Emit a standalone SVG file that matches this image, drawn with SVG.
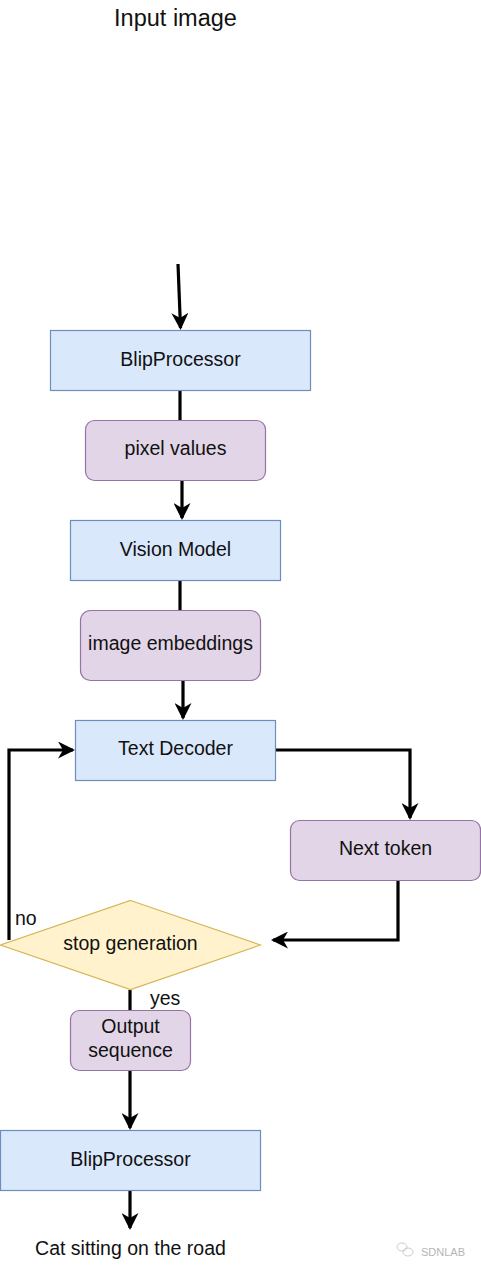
<svg xmlns="http://www.w3.org/2000/svg" width="481" height="1271" viewBox="0 0 481 1271">
  <style>
    .t { font-family: "Liberation Sans", Arial, sans-serif; font-size: 19.5px; fill: #111; text-anchor: middle; }
    .blue { fill: #dae8fc; stroke: #6c8ebf; stroke-width: 1.2; }
    .purple { fill: #e1d5e7; stroke: #9673a6; stroke-width: 1.2; }
    .yellow { fill: #fff2cc; stroke: #d6b656; stroke-width: 1.2; }
    .edge { fill: none; stroke: #000; stroke-width: 3.2; stroke-linejoin: miter; }
    .arrow { marker-end: url(#ah); }
  </style>
  <defs>
    <marker id="ah" viewBox="0 0 17 17" refX="15" refY="8.5" markerWidth="17" markerHeight="17" markerUnits="userSpaceOnUse" orient="auto">
      <path d="M0,0 L17,8.5 L0,17 L5,8.5 Z" fill="#000"/>
    </marker>
  </defs>
  <rect width="481" height="1271" fill="#fff"/>

  <g id="connectors">
    <path class="edge arrow" d="M178,264 L180.5,328"/>
    <path class="edge" d="M180,390 L180,420"/>
    <path class="edge arrow" d="M182,481 L182,518"/>
    <path class="edge" d="M180,580 L180,610"/>
    <path class="edge arrow" d="M183,681 L183,718"/>
    <path class="edge arrow" d="M276,750 L410,750 L410,818"/>
    <path class="edge arrow" d="M398,880 L398,940 L273,940"/>
    <path class="edge arrow" d="M9,940 L9,750 L73,750"/>
    <path class="edge" d="M130,990 L130,1010"/>
    <path class="edge arrow" d="M130,1071 L130,1128"/>
    <path class="edge arrow" d="M130,1191 L130,1228"/>
  </g>

  <g id="input-label">
    <text class="t" x="175.5" y="26" style="font-size:23.5px">Input image</text>
  </g>

  <g id="blip1">
    <rect class="blue" x="50.5" y="330.5" width="260" height="60"/>
    <text class="t" x="180.5" y="366">BlipProcessor</text>
  </g>

  <g id="pixel-values">
    <rect class="purple" x="85.5" y="420.5" width="180" height="60" rx="9"/>
    <text class="t" x="175.5" y="455">pixel values</text>
  </g>

  <g id="vision-model">
    <rect class="blue" x="70.5" y="520.5" width="210" height="60"/>
    <text class="t" x="175.5" y="556">Vision Model</text>
  </g>

  <g id="image-embeddings">
    <rect class="purple" x="80.5" y="610.5" width="180" height="70" rx="10"/>
    <text class="t" x="170.5" y="650">image embeddings</text>
  </g>

  <g id="text-decoder">
    <rect class="blue" x="75.5" y="720.5" width="200" height="60"/>
    <text class="t" x="175.5" y="755">Text Decoder</text>
  </g>

  <g id="next-token">
    <rect class="purple" x="290.5" y="820.5" width="190" height="60" rx="9"/>
    <text class="t" x="385.5" y="855">Next token</text>
  </g>

  <g id="stop-generation">
    <path class="yellow" d="M130.5,900.5 L260.5,945 L130.5,989.5 L0.5,945 Z"/>
    <text class="t" x="130.5" y="950">stop generation</text>
  </g>

  <g id="edge-labels">
    <text class="t" x="15" y="925" style="text-anchor:start">no</text>
    <text class="t" x="150" y="1005" style="text-anchor:start">yes</text>
  </g>

  <g id="output-sequence">
    <rect class="purple" x="70.5" y="1010.5" width="120" height="60" rx="9"/>
    <text class="t" x="130.5" y="1033">Output</text>
    <text class="t" x="130.5" y="1057">sequence</text>
  </g>

  <g id="blip2">
    <rect class="blue" x="0.5" y="1130.5" width="260" height="60"/>
    <text class="t" x="130.5" y="1166">BlipProcessor</text>
  </g>

  <g id="result-label">
    <text class="t" x="130.5" y="1255">Cat sitting on the road</text>
  </g>

  <g id="watermark">
    <ellipse cx="402" cy="1247" rx="5" ry="4" fill="none" stroke="#ccc" stroke-width="1"/>
    <ellipse cx="408" cy="1252" rx="5" ry="4" fill="none" stroke="#ccc" stroke-width="1"/>
    <text x="421" y="1256" style="font-family:'Liberation Sans', Arial, sans-serif; font-size:11px; fill:#b5b5b5">SDNLAB</text>
  </g>
</svg>
